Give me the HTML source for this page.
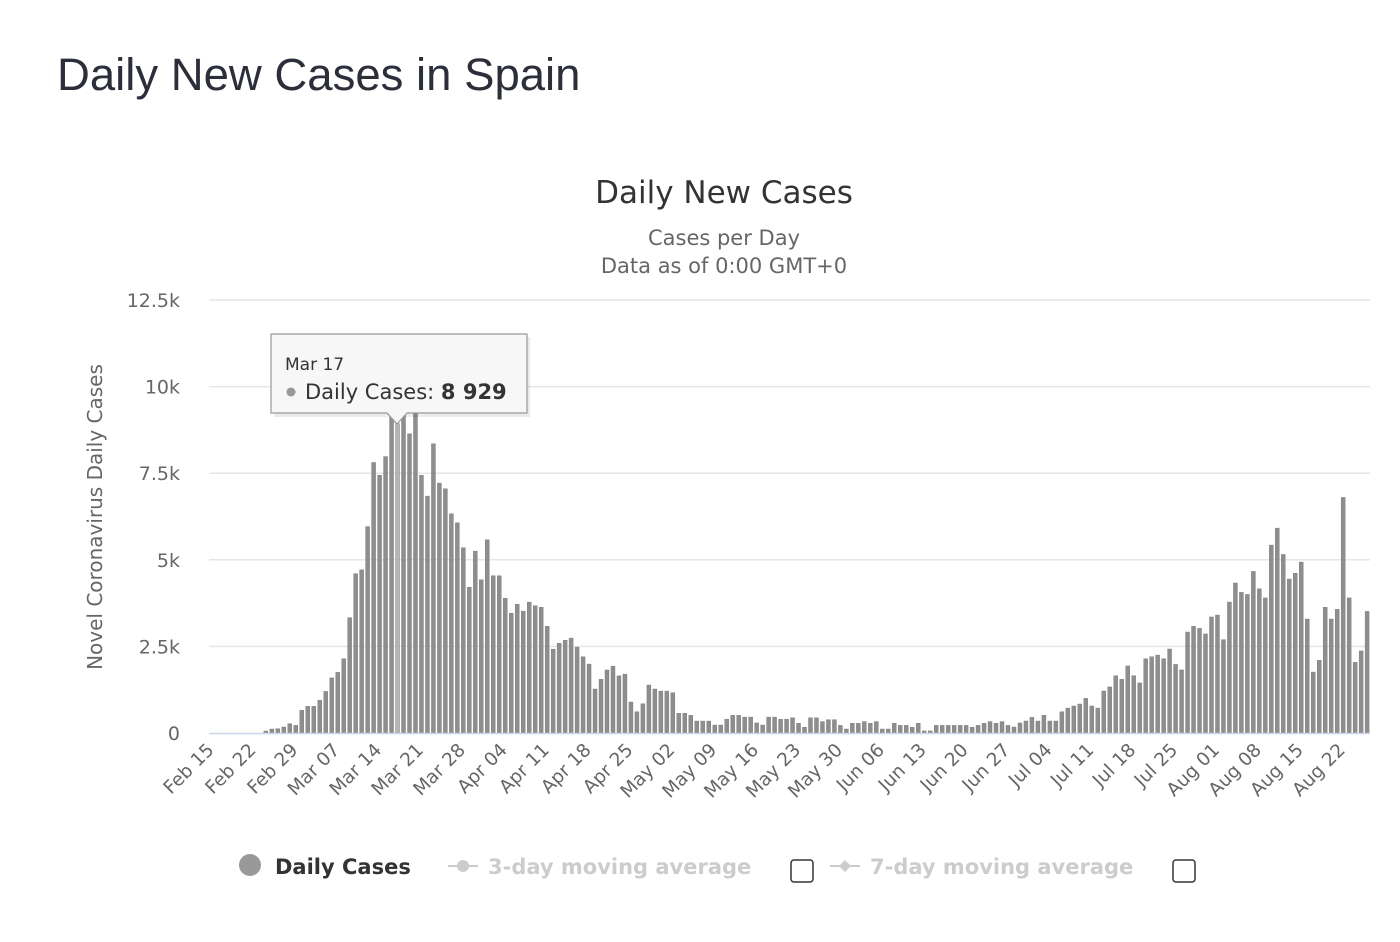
<!DOCTYPE html>
<html><head><meta charset="utf-8">
<style>
body{margin:0;background:#fff;width:1400px;height:942px;overflow:hidden;font-family:"Liberation Sans","DejaVu Sans",sans-serif}
#title{position:absolute;left:57px;top:49px;font-size:45.5px;color:#2c2f3a;margin:0;font-weight:normal}
svg{position:absolute;left:0;top:0;font-family:"DejaVu Sans",sans-serif}
</style></head><body>
<h1 id="title">Daily New Cases in Spain</h1>
<svg id="chart" width="1400" height="942"></svg>
<script>
const startDay = "Feb 15";
const yTicks = [0,2500,5000,7500,10000,12500];
const yTickLabels = ["0","2.5k","5k","7.5k","10k","12.5k"];
const xTickLabels = ["Feb 15","Feb 22","Feb 29","Mar 07","Mar 14","Mar 21","Mar 28","Apr 04","Apr 11","Apr 18","Apr 25","May 02","May 09","May 16","May 23","May 30","Jun 06","Jun 13","Jun 20","Jun 27","Jul 04","Jul 11","Jul 18","Jul 25","Aug 01","Aug 08","Aug 15","Aug 22"];
const dailyCases = [0,0,0,0,0,0,0,0,0,58,115,125,173,270,220,654,770,770,943,1200,1590,1750,2145,3330,4600,4710,5960,7810,7440,7980,9200,8929,9600,8640,10800,7440,6840,8350,7215,7050,6330,6070,5350,4210,5250,4425,5580,4540,4540,3890,3460,3720,3520,3780,3675,3630,3080,2420,2590,2680,2740,2480,2200,1990,1270,1550,1820,1930,1650,1700,895,615,845,1385,1270,1210,1210,1165,570,570,510,345,345,345,230,230,400,510,510,460,460,290,230,460,460,400,400,440,280,165,440,440,330,385,385,220,115,280,280,330,280,330,115,115,280,220,220,165,280,60,60,220,220,220,220,220,220,165,220,280,330,280,330,220,173,290,346,452,346,510,346,346,615,720,780,837,1000,780,720,1212,1330,1655,1550,1935,1655,1445,2145,2200,2250,2145,2425,1980,1820,2915,3080,3020,2860,3350,3405,2695,3780,4330,4060,4000,4665,4165,3900,5425,5915,5155,4445,4610,4935,3290,1760,2100,3630,3290,3570,6800,3900,2040,2370,3510];
const highlightIndex = 31;

const NS="http://www.w3.org/2000/svg";
const svg=document.getElementById('chart');
const X0=209,X1=1370,Y0=733,Ytop=300,YMAX=12500,DAYW=5.985;
const yScale=v=>Y0-(v/YMAX)*(Y0-Ytop);
const xScale=i=>X0+DAYW*(i+0.5);
function mk(tag,attrs,parent){const e=document.createElementNS(NS,tag);for(const k in attrs)e.setAttribute(k,attrs[k]);(parent||svg).appendChild(e);return e;}
function txt(s,attrs,parent){const e=mk('text',attrs,parent);e.textContent=s;return e;}

let t=txt("Daily New Cases",{x:724,y:203,'text-anchor':'middle','font-size':31,fill:'#333'});


t=txt("Cases per Day",{x:724,y:245,'text-anchor':'middle','font-size':21,fill:'#666'});


t=txt("Data as of 0:00 GMT+0",{x:724,y:273,'text-anchor':'middle','font-size':21,fill:'#666'});



yTicks.forEach((v,k)=>{
  const y=yScale(v);
  if(v>0){const g=mk('line',{x1:X0,x2:X1,y1:y,y2:y,stroke:'#e6e6e6','stroke-width':1.5});
  
  }
  const l=txt(yTickLabels[k],{x:180,y:y+7,'text-anchor':'end','font-size':19,fill:'#666'});
  
  
});
t=txt("Novel Coronavirus Daily Cases",{x:0,y:0,'text-anchor':'middle','font-size':20,fill:'#666',transform:'translate(102,517) rotate(-90)'});



dailyCases.forEach((v,i)=>{
  if(v<=0)return;
  const y=yScale(v);
  const b=mk('rect',{x:xScale(i)-2,y:y,width:4,height:Y0-y,fill:i===highlightIndex?'#b5b5b5':'#8e8e8e',stroke:'#777','stroke-width':0.4});
  
  
});
const ax=mk('line',{x1:X0,x2:X1,y1:Y0+0.5,y2:Y0+0.5,stroke:'#ccd6eb','stroke-width':1.5});



xTickLabels.forEach((s,k)=>{
  const x=X0+DAYW*7*k+6;
  const l=txt(s,{x:0,y:0,'text-anchor':'end','font-size':18.5,fill:'#666',transform:`translate(${x},${Y0+18}) rotate(-45)`});
  
  
});

const tg=mk('g',{});


mk('rect',{x:272,y:335,width:256,height:80,fill:'#000',opacity:0.08,transform:'translate(2,2)'},tg);
mk('path',{d:'M271 334 H527 V413 H407 L397 424 L387 413 H271 Z',fill:'#f7f7f7',stroke:'#999','stroke-width':1.2},tg);
txt("Mar 17",{x:285,y:370,'font-size':17,fill:'#333'},tg);
mk('circle',{cx:291,cy:392,r:4.5,fill:'#999'},tg);
const tl=txt("Daily Cases: ",{x:305,y:399,'font-size':21,fill:'#333'},tg);
const ts=mk('tspan',{'font-weight':'bold'},tl);ts.textContent="8 929";

const lg=mk('g',{});


let e=mk('circle',{cx:250,cy:865,r:11,fill:'#999'},lg);


e=txt("Daily Cases",{x:275,y:874,'font-size':21,'font-weight':'bold',fill:'#333'},lg);


mk('line',{x1:448,x2:478,y1:866,y2:866,stroke:'#ccc','stroke-width':2},lg);
mk('circle',{cx:463,cy:866,r:6,fill:'#ccc'},lg);
e=txt("3-day moving average",{x:488,y:874,'font-size':21,'font-weight':'bold',fill:'#ccc'},lg);


e=mk('rect',{x:791,y:860,width:22,height:22,rx:3,fill:'#fff',stroke:'#333','stroke-width':1.5},lg);


mk('line',{x1:830,x2:860,y1:866,y2:866,stroke:'#ccc','stroke-width':2},lg);
mk('path',{d:'M845 860 L851 866 L845 872 L839 866 Z',fill:'#ccc'},lg);
e=txt("7-day moving average",{x:870,y:874,'font-size':21,'font-weight':'bold',fill:'#ccc'},lg);


e=mk('rect',{x:1173,y:860,width:22,height:22,rx:3,fill:'#fff',stroke:'#333','stroke-width':1.5},lg);


</script>
</body></html>
